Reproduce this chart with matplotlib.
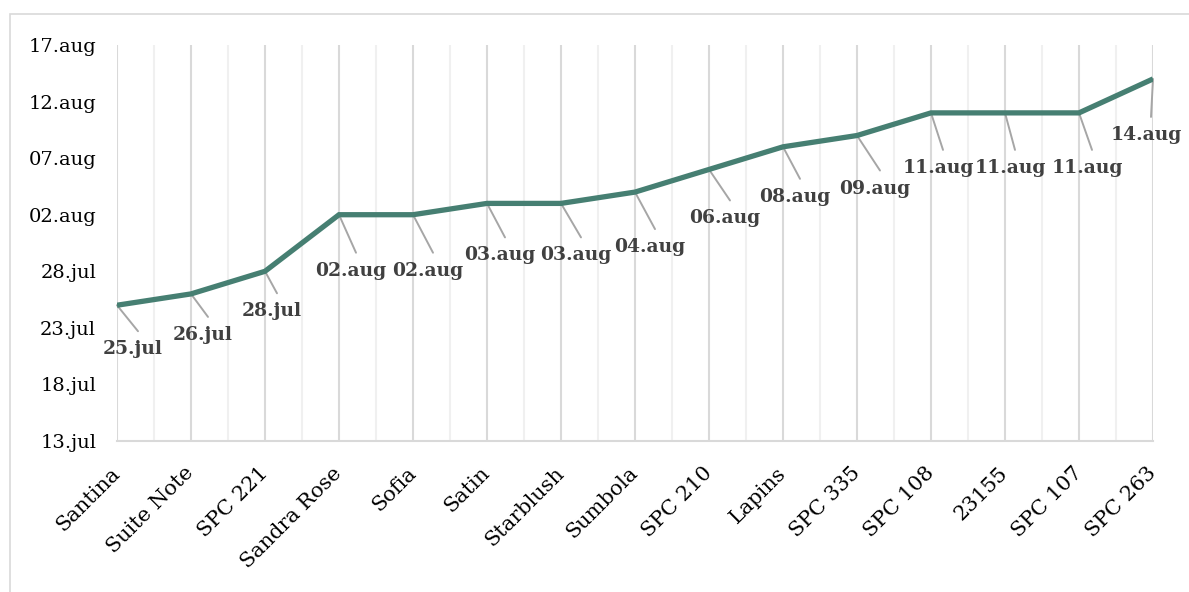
import matplotlib
matplotlib.use("Agg")
import matplotlib.pyplot as plt
import matplotlib.dates as mdates
from matplotlib.patches import Rectangle
from matplotlib.ticker import FixedLocator, FuncFormatter
import numpy as np

# ---- data ----
varieties = ["Santina", "Suite Note", "SPC 221", "Sandra Rose", "Sofia", "Satin",
             "Starblush", "Sumbola", "SPC 210", "Lapins", "SPC 335", "SPC 108",
             "23155", "SPC 107", "SPC 263"]
dates = ["2023-07-25", "2023-07-26", "2023-07-28", "2023-08-02", "2023-08-02",
         "2023-08-03", "2023-08-03", "2023-08-04", "2023-08-06", "2023-08-08",
         "2023-08-09", "2023-08-11", "2023-08-11", "2023-08-11", "2023-08-14"]
y_ticks = ["2023-07-13", "2023-07-18", "2023-07-23", "2023-07-28", "2023-08-02",
           "2023-08-07", "2023-08-12", "2023-08-17"]

# label offsets from point (pixels, right / down)
label_off = [(16, 44), (12, 41), (7, 40), (12, 56), (15, 56), (13, 52), (15, 52),
             (15, 55), (16, 49), (12, 50), (18, 53), (7, 55), (5, 55), (8, 55), (-7, 56)]

LINE_COLOR = "#467F72"
GRID_MAJ = "#D9D9D9"
GRID_MIN = "#F0F0F0"
LABEL_COLOR = "#404040"
FONT = "DejaVu Serif"

yvals = np.array([mdates.datestr2num(d) for d in dates])
ytick_vals = [mdates.datestr2num(d) for d in y_ticks]
x = np.arange(len(varieties))

def fmt_date(v, pos=None):
    return mdates.num2date(v).strftime("%d.%b").lower()

fig = plt.figure(figsize=(11.89, 5.92), dpi=100)
ax = fig.add_axes([117/1189, 1 - 441/592, (1153 - 117)/1189, (441 - 45)/592])

# border around chart area
fig.patches.append(Rectangle((10/1189, -0.05), 1.1, 1.05 - 14/592, transform=fig.transFigure,
                             fill=False, edgecolor=GRID_MAJ, linewidth=1.2, zorder=0))

ax.set_xlim(0, len(varieties) - 1)
ax.set_ylim(ytick_vals[0], ytick_vals[-1])

# gridlines
for xi in x:
    ax.axvline(xi, color=GRID_MAJ, lw=1.5, zorder=1)
for xi in x[:-1] + 0.5:
    ax.axvline(xi, color=GRID_MIN, lw=1.5, zorder=0.9)

ax.plot(x, yvals, color=LINE_COLOR, lw=3.8, solid_capstyle="butt",
        solid_joinstyle="miter", zorder=4)

# data labels with leader lines
px = 0.72
for xi, yi, (dx, dy) in zip(x, yvals, label_off):
    ax.annotate("", xy=(xi, yi), xytext=((dx + 5) * px, -(dy - 18) * px),
                textcoords="offset points",
                arrowprops=dict(arrowstyle="-", color="#A6A6A6", lw=1.4,
                                shrinkA=0, shrinkB=0), zorder=3)
    ax.annotate(fmt_date(yi), xy=(xi, yi), xytext=(dx * px, -dy * px),
                textcoords="offset points", ha="center", va="center",
                fontsize=13.5, fontweight="bold", color=LABEL_COLOR,
                family=FONT, zorder=5)

ax.yaxis.set_major_locator(FixedLocator(ytick_vals))
ax.yaxis.set_major_formatter(FuncFormatter(fmt_date))
ax.set_xticks(x)
ax.set_xticklabels(varieties, rotation=45, ha="right", va="center",
                   rotation_mode="anchor", family=FONT, fontsize=15, color="black")
for lab in ax.get_yticklabels():
    lab.set_family(FONT)
    lab.set_fontsize(14)
    lab.set_color("black")

ax.tick_params(axis="y", length=0, pad=15)
ax.tick_params(axis="x", length=0, pad=21)

for s in ["left", "right", "top"]:
    ax.spines[s].set_visible(False)
ax.spines["bottom"].set_color(GRID_MAJ)
ax.spines["bottom"].set_linewidth(1.5)
ax.set_facecolor("white")

fig.savefig("out.png", dpi=100, facecolor="white")
